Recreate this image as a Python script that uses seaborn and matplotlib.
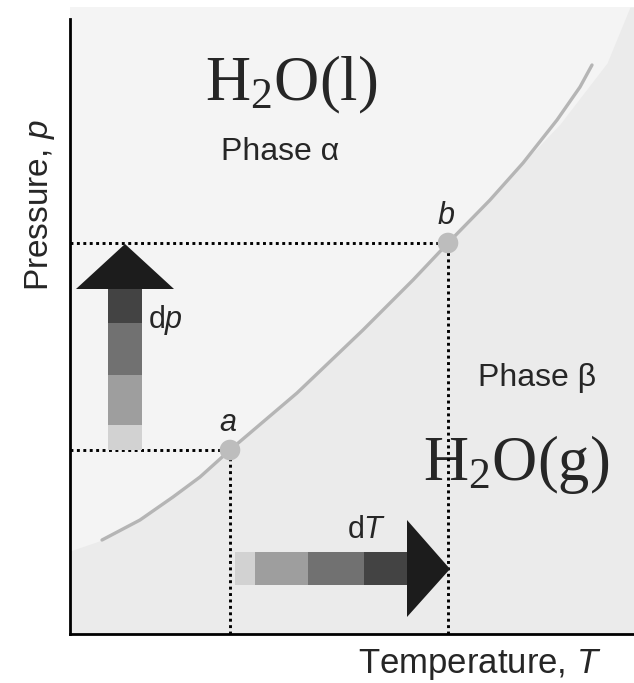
#!/usr/bin/env python3
"""Phase boundary diagram (p vs T) for liquid / vapour water."""

import matplotlib
matplotlib.use("Agg")
import matplotlib.pyplot as plt
import seaborn as sns
from matplotlib.patches import Rectangle, Polygon

# Coexistence curve (arbitrary units)
curve_T = [32, 70, 103, 130, 160, 227, 293, 343, 378, 420, 453, 487, 510, 522]
curve_p = [94, 114, 137, 157, 184, 241, 304, 354, 391, 434, 471, 514, 547, 569]

# Boundary between the two shaded phase regions
edge_T = [0, 32, 70, 103, 130, 160, 227, 293, 343, 378, 420, 453, 490, 537, 560, 564]
edge_p = [83, 94, 114, 137, 157, 184, 241, 304, 354, 391, 434, 471, 510, 571, 627, 627]

# The two marked states on the curve
point_names = ["a", "b"]
point_T = [160, 378]
point_p = [184, 391]

# Stepped greys for the dp / dT arrows (light -> dark)
dp_steps = [184, 209, 259, 311, 345]
dT_steps = [165, 185, 238, 294, 337]
step_greys = ["#d2d2d2", "#9e9e9e", "#717171", "#434343"]
head_grey = "#1c1c1c"

sns.set_style("white")
plt.rcParams["font.family"] = ["Liberation Sans", "DejaVu Sans"]
plt.rcParams["mathtext.fontset"] = "custom"
plt.rcParams["mathtext.rm"] = "Liberation Serif"
plt.rcParams["mathtext.it"] = "Liberation Sans:italic"

fig = plt.figure(figsize=(6.34, 6.83), dpi=100)
ax = fig.add_axes([70 / 634, 49 / 683, 564 / 634, 627 / 683])
ax.set_xlim(0, 564)
ax.set_ylim(0, 627)
ax.set_facecolor("#f4f4f4")

# Lower-right (vapour) region
ax.fill_between(edge_T, edge_p, 0, color="#ebebeb", lw=0, zorder=0)

# Dotted guide lines from a and b to the axes
dots = dict(color="black", lw=2.1, ls=(0, (1, 1.2)), zorder=2)
for T, p in zip(point_T, point_p):
    ax.plot([0, T], [p, p], **dots)
    ax.plot([T, T], [0, p], **dots)

# dp arrow (vertical)
for lo, hi, c in zip(dp_steps[:-1], dp_steps[1:], step_greys):
    ax.add_patch(Rectangle((38, lo), 34, hi - lo, color=c, lw=0, zorder=3))
ax.add_patch(Polygon([(6, dp_steps[-1]), (104, dp_steps[-1]), (55, 390)],
                     closed=True, color=head_grey, lw=0, zorder=3))

# dT arrow (horizontal)
for lo, hi, c in zip(dT_steps[:-1], dT_steps[1:], step_greys):
    ax.add_patch(Rectangle((lo, 49), hi - lo, 33, color=c, lw=0, zorder=3))
ax.add_patch(Polygon([(dT_steps[-1], 114), (dT_steps[-1], 17), (380, 65)],
                     closed=True, color=head_grey, lw=0, zorder=3))

# Coexistence curve and points
sns.lineplot(x=curve_T, y=curve_p, ax=ax, color="#b5b5b5", lw=2.4,
             sort=False, zorder=4)
sns.scatterplot(x=point_T, y=point_p, ax=ax, color="#bdbdbd", s=220,
                edgecolor="none", zorder=5)

for name, T, p in zip(point_names, point_T, point_p):
    ax.text(T - 2, p + 27, name, fontsize=22, style="italic",
            ha="center", va="center", zorder=6)

# Labels in the diagram
ax.text(221, 549, r"$\mathrm{H_2O(l)}$", fontsize=45, ha="center", va="center")
ax.text(210, 482, "Phase \u03b1", fontsize=23, ha="center", va="center")
ax.text(467, 256, "Phase \u03b2", fontsize=23, ha="center", va="center")
ax.text(446, 169, r"$\mathrm{H_2O(g)}$", fontsize=45, ha="center", va="center",
        zorder=1)
ax.text(78, 314, r"d$\mathit{p}$", fontsize=22, ha="left", va="center")
ax.text(297, 104, r"d$\mathit{T}$", fontsize=22, ha="center", va="center")

# Axes
ax.set_xlabel(r"Temperature, $\mathit{T}$", fontsize=25, va="center")
ax.set_ylabel(r"Pressure, $\mathit{p}$", fontsize=24, va="center")
ax.xaxis.set_label_coords(0.727, -0.049)
ax.yaxis.set_label_coords(-0.053, 0.684)
ax.set_xticks([])
ax.set_yticks([])
for side in ["top", "right"]:
    ax.spines[side].set_visible(False)
for side in ["left", "bottom"]:
    ax.spines[side].set_color("black")
    ax.spines[side].set_linewidth(2)
ax.spines["left"].set_bounds(0, 615)

fig.savefig("out.png", dpi=100)
